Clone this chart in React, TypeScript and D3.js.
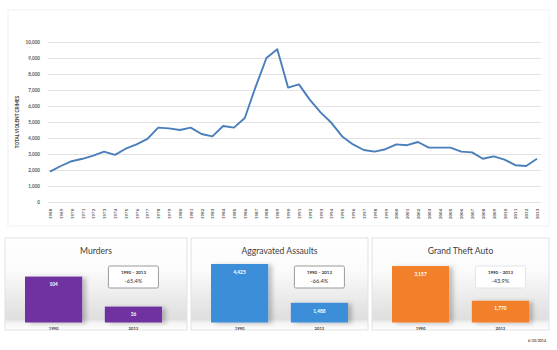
import React, { useEffect, useRef } from 'react'
import * as d3 from 'd3'

const years = [
  '1968', '1969', '1970', '1971', '1972', '1973', '1974', '1975', '1976', '1977',
  '1978', '1979', '1980', '1981', '1982', '1983', '1984', '1985', '1986', '1987',
  '1988', '1989', '1990', '1991', '1992', '1993', '1994', '1995', '1996', '1997',
  '1998', '1999', '2000', '2001', '2002', '2003', '2004', '2005', '2006', '2007',
  '2008', '2009', '2010', '2011', '2012', '2013'
]

const violentCrimes = [
  1900, 2250, 2550, 2700, 2900, 3150, 2950, 3330, 3600, 3950,
  4650, 4600, 4500, 4650, 4250, 4100, 4750, 4650, 5250, 7200,
  9000, 9550, 7150, 7350, 6400, 5600, 4950, 4100, 3600, 3250,
  3150, 3300, 3600, 3550, 3750, 3400, 3400, 3400, 3150, 3100,
  2700, 2850, 2650, 2300, 2250, 2700
]

const yTicks = [0, 1000, 2000, 3000, 4000, 5000, 6000, 7000, 8000, 9000, 10000]

const panelTitles = ['Murders', 'Aggravated Assaults', 'Grand Theft Auto']
const panelYears = ['1990', '2013']
const values1990 = [104, 4425, 3157]
const values2013 = [36, 1488, 1770]
const changeLabels = ['-65.4%', '-66.4%', '-43.9%']
const axisMins = [0, 0, 900]
const axisMaxes = [137, 4575, 3320]
const barColors = ['#7030a0', '#3d8ed8', '#f2802a']

const W = 557
const H = 350
const FONT = 'Lato, "Open Sans", sans-serif'

export default function App () {
  const ref = useRef<SVGSVGElement>(null)

  useEffect(() => {
    const svg = d3.select(ref.current)
    svg.selectAll('*').remove()

    const defs = svg.append('defs')
    const grad = defs.append('linearGradient')
      .attr('id', 'panelBg').attr('x1', 0).attr('y1', 0).attr('x2', 0).attr('y2', 1)
    grad.append('stop').attr('offset', '0%').attr('stop-color', '#ffffff')
    grad.append('stop').attr('offset', '35%').attr('stop-color', '#fbfbfb')
    grad.append('stop').attr('offset', '88%').attr('stop-color', '#dedede')
    grad.append('stop').attr('offset', '92%').attr('stop-color', '#f3f3f3')
    grad.append('stop').attr('offset', '100%').attr('stop-color', '#ffffff')

    const shadow = defs.append('filter').attr('id', 'barShadow')
      .attr('x', '-20%').attr('y', '-20%').attr('width', '160%').attr('height', '160%')
    shadow.append('feDropShadow')
      .attr('dx', 4).attr('dy', 1).attr('stdDeviation', 2)
      .attr('flood-color', '#000').attr('flood-opacity', 0.22)

    // main line chart
    const margin = { top: 42, right: 20, bottom: 148, left: 50 }
    const x = d3.scalePoint<string>().domain(years).range([margin.left, W - margin.right])
    const y = d3.scaleLinear().domain([0, 10000]).range([H - margin.bottom, margin.top])

    svg.append('rect')
      .attr('x', 8).attr('y', 10).attr('width', 541).attr('height', 216)
      .attr('fill', '#fff').attr('stroke', '#f0f0f0')

    svg.append('g')
      .attr('transform', `translate(${margin.left - 2},0)`)
      .call(d3.axisLeft(y).tickValues(yTicks).tickSize(-(W - margin.left - margin.right + 6))
        .tickFormat(d3.format(',') as any))
      .call(g => g.select('.domain').remove())
      .call(g => g.selectAll('.tick line').attr('stroke', '#e3e3e3'))
      .call(g => g.selectAll('.tick text')
        .attr('x', -8).attr('fill', '#555').attr('font-size', 4.6)
        .attr('font-weight', 'bold').attr('font-family', FONT))

    svg.append('g')
      .attr('transform', `translate(0,${H - margin.bottom + 4})`)
      .call(d3.axisBottom(x).tickSize(0))
      .call(g => g.select('.domain').remove())
      .call(g => g.selectAll('.tick text')
        .attr('transform', 'rotate(-90)')
        .attr('text-anchor', 'start').attr('dy', '0.35em').attr('x', -13).attr('y', 0)
        .attr('fill', '#555').attr('font-size', 4.4).attr('font-weight', 'bold')
        .attr('font-family', FONT))

    svg.append('text')
      .attr('transform', `translate(17,${(y(0) + y(10000)) / 2}) rotate(-90)`)
      .attr('text-anchor', 'middle').attr('dy', '0.35em')
      .attr('fill', '#444').attr('font-size', 4.6).attr('font-weight', 'bold')
      .attr('font-family', FONT)
      .text('TOTAL VIOLENT CRIMES')

    const line = d3.line<number>()
      .x((d, i) => x(years[i]) as number)
      .y(d => y(d))

    svg.append('path')
      .datum(violentCrimes)
      .attr('fill', 'none')
      .attr('stroke', '#4a7ebb')
      .attr('stroke-width', 1.9)
      .attr('stroke-linejoin', 'round')
      .attr('d', line)

    // three comparison panels
    const panels = [[5, 187], [191, 368], [372, 549]]
    const panelTop = 238
    const panelBottom = 330
    const baseline = 322.5

    panels.forEach(([left, right], i) => {
      const g = svg.append('g')
      g.append('rect')
        .attr('x', left).attr('y', panelTop)
        .attr('width', right - left).attr('height', panelBottom - panelTop)
        .attr('fill', 'url(#panelBg)').attr('stroke', '#e2e2e2')

      g.append('text')
        .attr('x', (left + right) / 2).attr('y', 251).attr('dy', '0.35em')
        .attr('text-anchor', 'middle').attr('font-size', 8.6)
        .attr('fill', '#404040').attr('font-family', FONT)
        .text(panelTitles[i])

      const bx = d3.scaleBand<string>().domain(panelYears)
        .range([left + 20, left + 157]).paddingInner(0.284).paddingOuter(0)
      const by = d3.scaleLinear().domain([axisMins[i], axisMaxes[i]]).range([baseline, 262])
      const vals = [values1990[i], values2013[i]]
      const fmt = d3.format(',')

      g.selectAll('rect.bar')
        .data(vals)
        .join('rect')
        .attr('class', 'bar')
        .attr('x', (d, j) => bx(panelYears[j]) as number)
        .attr('y', d => by(d))
        .attr('width', bx.bandwidth())
        .attr('height', d => baseline - by(d))
        .attr('fill', barColors[i])
        .attr('filter', 'url(#barShadow)')

      g.selectAll('text.val')
        .data(vals)
        .join('text')
        .attr('class', 'val')
        .attr('x', (d, j) => (bx(panelYears[j]) as number) + bx.bandwidth() / 2)
        .attr('y', d => by(d) + 8)
        .attr('text-anchor', 'middle').attr('dy', '0.35em')
        .attr('fill', '#fff').attr('font-size', 4.8).attr('font-weight', 'bold')
        .attr('font-family', FONT)
        .text(d => fmt(d))

      g.selectAll('text.yr')
        .data(panelYears)
        .join('text')
        .attr('class', 'yr')
        .attr('x', d => (bx(d) as number) + bx.bandwidth() / 2)
        .attr('y', 328.5)
        .attr('text-anchor', 'middle').attr('dy', '0.35em')
        .attr('fill', '#444').attr('font-size', 4.2).attr('font-weight', 'bold')
        .attr('font-family', FONT)
        .text(d => d)

      const cx = (bx('2013') as number) + bx.bandwidth() / 2
      g.append('rect')
        .attr('x', cx - 25).attr('y', 266).attr('width', 50).attr('height', 22)
        .attr('rx', 1.5)
        .attr('fill', '#fff').attr('stroke', i === 2 ? '#e4e4e4' : '#9a9a9a')
        .attr('stroke-width', 1)
      g.append('text')
        .attr('x', cx).attr('y', 272.5).attr('dy', '0.35em')
        .attr('text-anchor', 'middle').attr('fill', '#333')
        .attr('font-size', 4.4).attr('font-weight', 'bold').attr('font-family', FONT)
        .text(`${panelYears[0]} – ${panelYears[1]}`)
      g.append('text')
        .attr('x', cx).attr('y', 281).attr('dy', '0.35em')
        .attr('text-anchor', 'middle').attr('fill', '#333')
        .attr('font-size', 5.6).attr('font-family', FONT)
        .text(changeLabels[i])
    })

    svg.append('text')
      .attr('x', 546).attr('y', 342).attr('text-anchor', 'end')
      .attr('fill', '#555').attr('font-size', 3.6).attr('font-weight', 'bold')
      .attr('font-family', FONT)
      .text('6/30/2014')
  }, [])

  return (
    <svg
      ref={ref}
      width={W}
      height={H}
      style={{ position: 'absolute', left: 0, top: 0, background: '#fff' }}
    />
  )
}
